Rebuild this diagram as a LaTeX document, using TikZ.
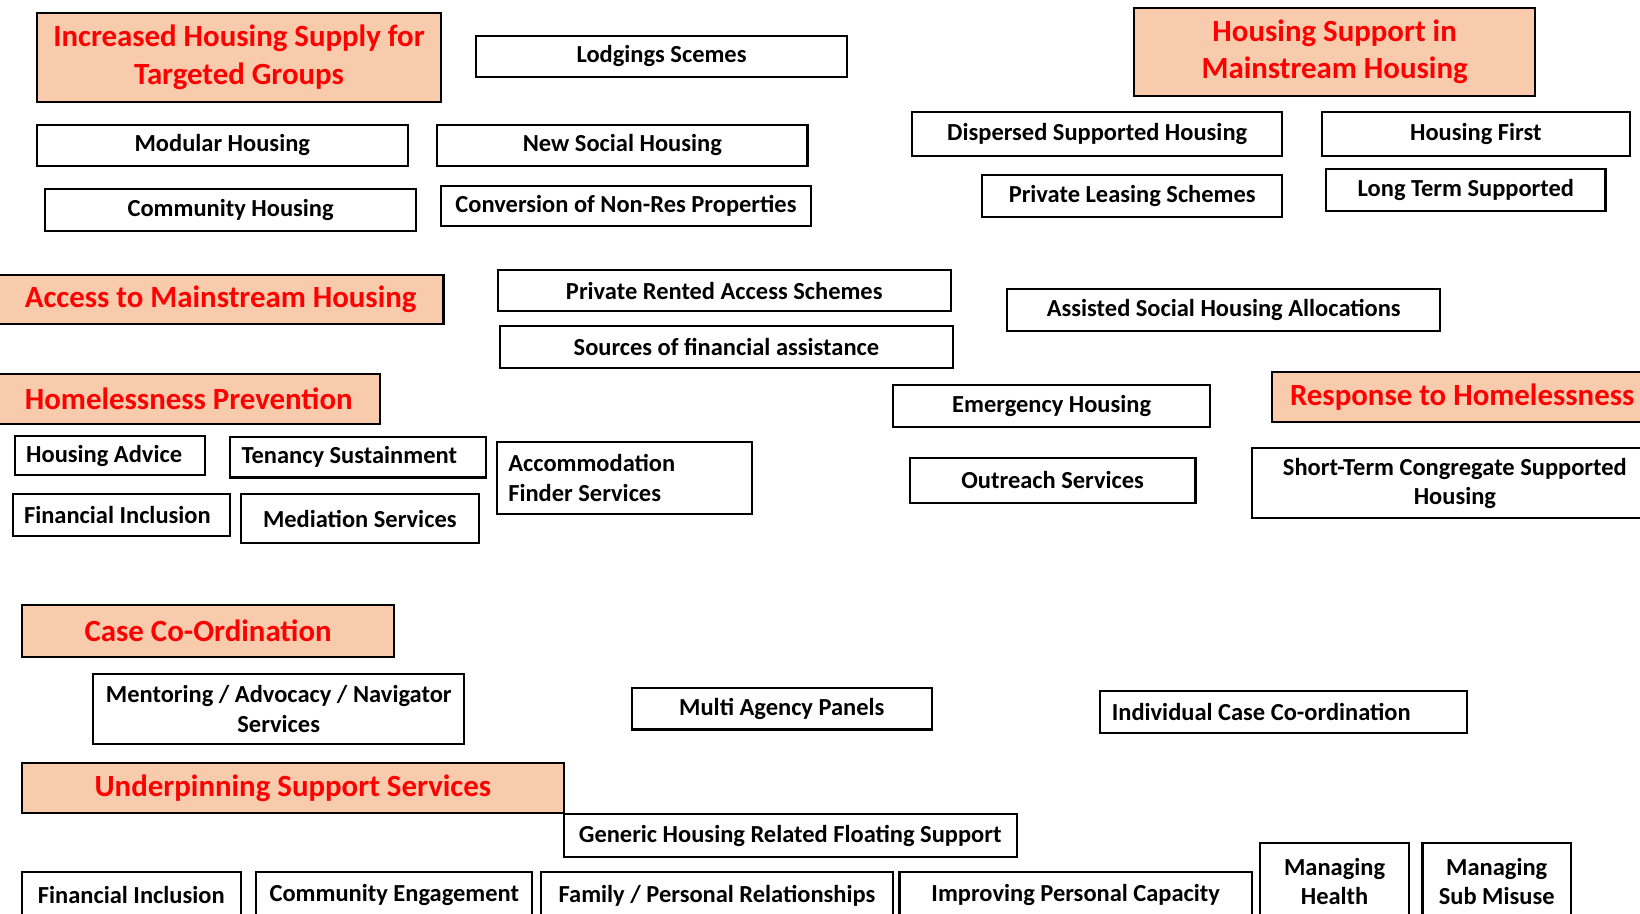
\documentclass[tikz,border=0pt]{standalone}
\usepackage{fontspec}
\setmainfont{Carlito}
\definecolor{headfill}{HTML}{F8CBAD}

\begin{document}
\begin{tikzpicture}[
	x=1pt, y=-1pt,
	item/.style = {
		rectangle,
		draw,
		line width=2pt,
		fill=white,
		align=center,
		inner sep=2pt,
		font=\bfseries\fontsize{23.4}{28}\selectfont
	},
	leftitem/.style = {
		item,
		align=flush left,
		inner xsep=11pt
	},
	heading/.style = {
		item,
		fill=headfill,
		text=red,
		font=\bfseries\fontsize{29.5}{36}\selectfont
	},
]
	\useasboundingbox (0,0) rectangle (1568,873);
	\clip (0,0) rectangle (1568,873);

	% increased housing supply
	\node (supply) [heading, minimum width=387pt, minimum height=85pt] at (228.5,55) {Increased Housing Supply for\\Targeted Groups};
	\node (lodgings) [item, minimum width=355pt, minimum height=39pt] at (632.5,54) {Lodgings Scemes};
	\node (modular) [item, minimum width=355pt, minimum height=39pt] at (212.5,139) {Modular Housing};
	\node (newsocial) [item, minimum width=354pt, minimum height=39pt] at (595,139) {New Social Housing};
	\node (community) [item, minimum width=355pt, minimum height=40pt] at (220.5,200.5) {Community Housing};
	\node (conversion) [item, minimum width=353pt, minimum height=39pt] at (598.5,197) {Conversion of Non-Res Properties};

	% housing support in mainstream housing
	\node (support) [heading, minimum width=384pt, minimum height=84pt] at (1276,49.5) {Housing Support in\\Mainstream Housing};
	\node (dispersed) [item, minimum width=354pt, minimum height=42pt] at (1049,128.5) {Dispersed Supported Housing};
	\node (first) [item, minimum width=294pt, minimum height=42pt] at (1411,128.5) {Housing First};
	\node (leasing) [item, minimum width=287pt, minimum height=40pt] at (1082.5,187.5) {Private Leasing Schemes};
	\node (longterm) [item, minimum width=267pt, minimum height=40pt] at (1401.5,181.5) {Long Term Supported};

	% access to mainstream housing
	\node (access) [heading, minimum width=426pt, minimum height=47pt] at (211,286) {Access to Mainstream Housing};
	\node (rented) [item, minimum width=433pt, minimum height=39pt] at (692.5,278) {Private Rented Access Schemes};
	\node (sources) [item, minimum width=433pt, minimum height=40pt] at (694.5,331.5) {Sources of financial assistance};
	\node (assisted) [item, minimum width=414pt, minimum height=40pt] at (1170,296.5) {Assisted Social Housing Allocations};

	% homelessness prevention
	\node (prevention) [heading, minimum width=365pt, minimum height=48pt] at (180.5,381.5) {Homelessness Prevention};
	\node (advice) [leftitem, text width=160pt, minimum height=38pt] at (105,435.5) {Housing Advice};
	\node (tenancy) [leftitem, text width=223pt, minimum height=39pt] at (342.5,437) {Tenancy Sustainment};
	\node (inclusion) [leftitem, text width=186pt, minimum height=40pt] at (116,492.5) {Financial Inclusion};
	\node (mediation) [item, minimum width=228pt, minimum height=47pt] at (344,496) {Mediation Services};
	\node (finder) [leftitem, text width=222pt, minimum height=69pt] at (597,457) {Accommodation\\Finder Services};

	% response to homelessness
	\node (emergency) [item, minimum width=303pt, minimum height=40pt] at (1005.5,388.5) {Emergency Housing};
	\node (outreach) [item, minimum width=273pt, minimum height=43pt] at (1006.5,459) {Outreach Services};
	\node (response) [heading, minimum width=364pt, minimum height=48pt] at (1398,379.5) {Response to Homelessness};
	\node (congregate) [item, minimum width=388pt, minimum height=67pt] at (1391,462) {Short-Term Congregate Supported\\Housing};

	% case co-ordination
	\node (casecoord) [heading, minimum width=356pt, minimum height=50pt] at (199,603.5) {Case Co-Ordination};
	\node (mentoring) [item, minimum width=355pt, minimum height=67pt] at (266.5,678) {Mentoring / Advocacy / Navigator\\Services};
	\node (panels) [item, minimum width=287pt, minimum height=40pt] at (747.5,677.5) {Multi Agency Panels};
	\node (individual) [leftitem, text width=329pt, minimum height=40pt] at (1227.5,680.5) {Individual Case Co-ordination};

	% underpinning support services
	\node (underpin) [heading, minimum width=518pt, minimum height=48pt] at (280,753.5) {Underpinning Support Services};
	\node (floating) [item, minimum width=433pt, minimum height=41pt] at (755.5,799) {Generic Housing Related Floating Support};
	\node (inclusion2) [item, minimum width=209pt, minimum height=44pt] at (125.5,856) {Financial Inclusion};
	\node (engagement) [item, minimum width=264pt, minimum height=44pt] at (377,856) {Community Engagement};
	\node (family) [item, minimum width=337pt, minimum height=44pt] at (685.5,856) {Family / Personal Relationships};
	\node (capacity) [item, minimum width=337pt, minimum height=44pt] at (1028.5,856) {Improving Personal Capacity};
	\node (health) [item, minimum width=142pt, minimum height=74pt] at (1276,843) {Managing\\Health};
	\node (misuse) [item, minimum width=142pt, minimum height=74pt] at (1431,843) {Managing\\Sub Misuse};
\end{tikzpicture}
\end{document}
